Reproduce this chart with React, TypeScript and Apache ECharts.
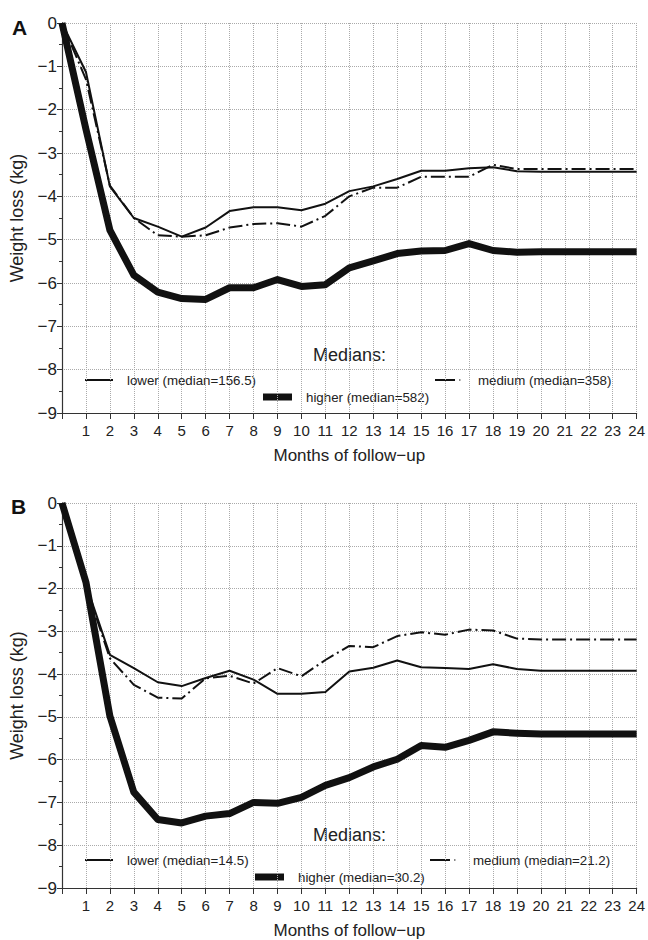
import React, { useEffect, useRef } from "react";
import * as echarts from "echarts";

const months = [0, 1, 2, 3, 4, 5, 6, 7, 8, 9, 10, 11, 12, 13, 14, 15, 16, 17, 18, 19, 20, 21, 22, 23, 24];

// Panel A
const aLower = [0, -1.13, -3.77, -4.5, -4.7, -4.93, -4.72, -4.34, -4.25, -4.25, -4.32, -4.17, -3.88, -3.77, -3.6, -3.41, -3.41, -3.35, -3.33, -3.42, -3.43, -3.43, -3.43, -3.43, -3.43];
const aMedium = [0, -1.3, -3.75, -4.5, -4.9, -4.93, -4.9, -4.72, -4.64, -4.62, -4.7, -4.45, -4.0, -3.8, -3.8, -3.55, -3.55, -3.55, -3.27, -3.37, -3.37, -3.37, -3.37, -3.37, -3.37];
const aHigher = [0, -2.45, -4.78, -5.82, -6.21, -6.36, -6.38, -6.11, -6.11, -5.92, -6.08, -6.04, -5.65, -5.49, -5.32, -5.26, -5.25, -5.09, -5.25, -5.29, -5.28, -5.28, -5.28, -5.28, -5.28];

// Panel B
const bLower = [0, -1.9, -3.55, -3.86, -4.19, -4.28, -4.09, -3.92, -4.13, -4.46, -4.46, -4.42, -3.94, -3.85, -3.68, -3.84, -3.86, -3.88, -3.77, -3.88, -3.92, -3.92, -3.92, -3.92, -3.92];
const bMedium = [0, -1.95, -3.63, -4.25, -4.55, -4.57, -4.1, -4.04, -4.22, -3.86, -4.05, -3.67, -3.34, -3.37, -3.11, -3.02, -3.08, -2.96, -2.98, -3.17, -3.19, -3.19, -3.19, -3.19, -3.19];
const bHigher = [0, -1.85, -4.98, -6.76, -7.4, -7.48, -7.32, -7.26, -7.0, -7.02, -6.88, -6.6, -6.42, -6.17, -5.99, -5.67, -5.71, -5.55, -5.35, -5.38, -5.4, -5.4, -5.4, -5.4, -5.4];

const legendA = ["lower (median=156.5)", "medium (median=358)", "higher (median=582)"];
const legendB = ["lower (median=14.5)", "medium (median=21.2)", "higher (median=30.2)"];
const panelLetters = ["A", "B"];

const FONT = "'Liberation Sans', Arial, Helvetica, sans-serif";
const INK = "#111";
const AXIS = "#333";
const DASHDOT = [14, 4, 2, 4];

function pairs(vals: number[]) {
  return months.map((m, i) => [m, vals[i]]);
}

function xAxis(gi: number) {
  return {
    type: "value",
    gridIndex: gi,
    min: 0,
    max: 24,
    interval: 1,
    name: "Months of follow\u2212up",
    nameLocation: "middle",
    nameGap: 34,
    nameTextStyle: { fontSize: 17, color: "#222", fontFamily: FONT },
    axisLine: { show: true, onZero: false, lineStyle: { color: AXIS, width: 1.2 } },
    axisTick: { show: true, length: 6, lineStyle: { color: AXIS } },
    axisLabel: {
      fontSize: 15,
      color: "#222",
      fontFamily: FONT,
      margin: 10,
      formatter: (v: number) => (v === 0 ? "" : String(v)),
    },
    splitLine: { show: true, lineStyle: { type: "dotted", color: "#aaa", width: 1 } },
  };
}

function yAxis(gi: number) {
  return {
    type: "value",
    gridIndex: gi,
    min: -9,
    max: 0,
    interval: 1,
    name: "Weight loss (kg)",
    nameLocation: "middle",
    nameGap: 36,
    nameRotate: 90,
    nameTextStyle: { fontSize: 18, color: "#222", fontFamily: FONT },
    axisLine: { show: true, onZero: false, lineStyle: { color: AXIS, width: 1.2 } },
    axisTick: { show: true, length: 5, lineStyle: { color: AXIS } },
    minorTick: { show: true, splitNumber: 2, length: 3, lineStyle: { color: AXIS } },
    axisLabel: {
      fontSize: 17,
      color: "#222",
      fontFamily: FONT,
      margin: 5,
      formatter: (v: number) => (v === 0 ? "0" : "\u2212" + Math.abs(v)),
    },
    splitLine: { show: true, lineStyle: { type: "dotted", color: "#aaa", width: 1 } },
  };
}

function lineSeries(name: string, gi: number, vals: number[], kind: "lower" | "medium" | "higher") {
  return {
    type: "line",
    name,
    xAxisIndex: gi,
    yAxisIndex: gi,
    data: pairs(vals),
    showSymbol: false,
    symbol: "none",
    smooth: false,
    z: kind === "higher" ? 2 : 3,
    lineStyle: {
      color: INK,
      width: kind === "higher" ? 7 : 2,
      type: kind === "medium" ? DASHDOT : "solid",
      join: "round",
      cap: "butt",
    },
  };
}

function legendGraphics(
  labels: string[],
  pos: { mediansY: number; rowY: number; row2Y: number; lowX: number; medX: number; highX: number }
) {
  const txt = (x: number, y: number, text: string, size: number) => ({
    type: "text",
    x,
    y,
    style: { text, fontSize: size, fontFamily: FONT, fill: "#222", verticalAlign: "middle", align: "left" },
  });
  return [
    txt(313, pos.mediansY, "Medians:", 18),
    { type: "line", shape: { x1: pos.lowX, y1: pos.rowY, x2: pos.lowX + 28, y2: pos.rowY }, style: { stroke: INK, lineWidth: 2 } },
    txt(pos.lowX + 42, pos.rowY, labels[0], 13.3),
    { type: "line", shape: { x1: pos.medX, y1: pos.rowY, x2: pos.medX + 20, y2: pos.rowY }, style: { stroke: INK, lineWidth: 2 } },
    { type: "line", shape: { x1: pos.medX + 24, y1: pos.rowY, x2: pos.medX + 25.5, y2: pos.rowY }, style: { stroke: "#888", lineWidth: 2 } },
    txt(pos.medX + 43, pos.rowY, labels[1], 13.3),
    { type: "line", shape: { x1: pos.highX, y1: pos.row2Y, x2: pos.highX + 29, y2: pos.row2Y }, style: { stroke: INK, lineWidth: 7 } },
    txt(pos.highX + 43, pos.row2Y, labels[2], 13.3),
  ];
}

export default function App() {
  const ref = useRef<HTMLDivElement>(null);

  useEffect(() => {
    document.body.style.margin = "0";
    if (!ref.current) return;
    const chart = echarts.init(ref.current, null, { renderer: "svg" });
    chart.setOption({
      animation: false,
      backgroundColor: "#fff",
      textStyle: { fontFamily: FONT },
      grid: [
        { left: 62, top: 23, width: 577, height: 390 },
        { left: 61, top: 503, width: 577, height: 390 },
      ],
      xAxis: [xAxis(0), xAxis(1)],
      yAxis: [yAxis(0), yAxis(1)],
      series: [
        lineSeries(legendA[2], 0, aHigher, "higher"),
        lineSeries(legendA[0], 0, aLower, "lower"),
        lineSeries(legendA[1], 0, aMedium, "medium"),
        lineSeries(legendB[2], 1, bHigher, "higher"),
        lineSeries(legendB[0], 1, bLower, "lower"),
        lineSeries(legendB[1], 1, bMedium, "medium"),
      ],
      graphic: [
        {
          type: "text",
          x: 12,
          y: 27,
          style: { text: panelLetters[0], fontSize: 21, fontWeight: "bold", fontFamily: FONT, fill: "#111", verticalAlign: "middle" },
        },
        {
          type: "text",
          x: 11,
          y: 506,
          style: { text: panelLetters[1], fontSize: 21, fontWeight: "bold", fontFamily: FONT, fill: "#111", verticalAlign: "middle" },
        },
        ...legendGraphics(legendA, { mediansY: 355, rowY: 380, row2Y: 397, lowX: 85, medX: 435, highX: 263 }),
        ...legendGraphics(legendB, { mediansY: 835, rowY: 860, row2Y: 877, lowX: 85, medX: 430, highX: 255 }),
      ],
    });
    return () => chart.dispose();
  }, []);

  return <div ref={ref} style={{ width: 648, height: 940 }} />;
}
